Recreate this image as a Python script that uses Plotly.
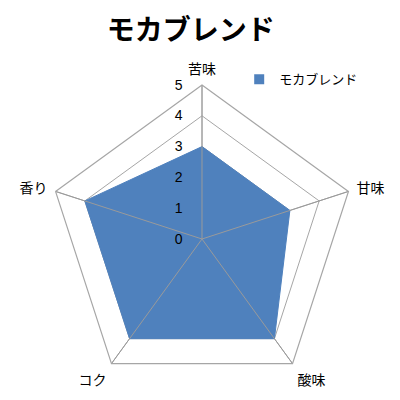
import plotly.graph_objects as go

# Data
categories = ["苦味", "甘味", "酸味", "コク", "香り"]
values = [3, 3, 4, 4, 4]
series_name = "モカブレンド"
r_max = 5

blue = "#4f81bd"
grid = "#a6a6a6"
font = "Noto Sans CJK JP"

fig = go.Figure()

# filled radar area
fig.add_trace(go.Scatterpolar(
    r=values + values[:1],
    theta=categories + categories[:1],
    fill="toself",
    fillcolor=blue,
    line=dict(color=blue, width=1),
    mode="lines",
    name=series_name,
    showlegend=False,
))

# spokes drawn over the fill (like Excel)
spoke_r, spoke_t = [], []
for c in categories:
    spoke_r += [0, r_max, None]
    spoke_t += [c, c, None]
fig.add_trace(go.Scatterpolar(
    r=spoke_r, theta=spoke_t, mode="lines",
    line=dict(color="#9a9a9a", width=1),
    showlegend=False, hoverinfo="skip",
))

# legend entry with a square key
fig.add_trace(go.Scatterpolar(
    r=[None], theta=[categories[0]], mode="markers",
    marker=dict(symbol="square", size=10, color=blue),
    name=series_name,
))

fig.update_layout(
    width=400, height=400,
    margin=dict(l=0, r=0, t=0, b=0),
    paper_bgcolor="white",
    font=dict(family=font, color="black"),
    title=dict(text="<b>モカブレンド</b>", x=0.457, xanchor="center",
               y=0.945, yanchor="middle",
               font=dict(size=28, family=font, color="black")),
    showlegend=True,
    legend=dict(x=0.578, y=0.822, xanchor="left", yanchor="middle",
                font=dict(size=13, family=font), itemwidth=30,
                bgcolor="rgba(0,0,0,0)"),
    polar=dict(
        domain=dict(x=[0.1, 0.87], y=[0.0375, 0.8075]),
        bgcolor="white",
        gridshape="linear",
        radialaxis=dict(
            range=[0, r_max], dtick=1, angle=90,
            tickangle=90,
            side="counterclockwise",
            showline=False,
            gridcolor=grid, gridwidth=1.2,
            ticks="outside", ticklen=14, tickcolor="rgba(0,0,0,0)",
            layer="above traces",
            tickfont=dict(size=14, color="black", family="Liberation Sans"),
        ),
        angularaxis=dict(
            direction="clockwise", rotation=90,
            linecolor=grid, linewidth=1.2,
            gridcolor=grid,
            ticks="outside", ticklen=5, tickcolor="rgba(0,0,0,0)",
            tickfont=dict(size=14, color="black", family=font),
        ),
    ),
)

fig.write_html("out.html")
